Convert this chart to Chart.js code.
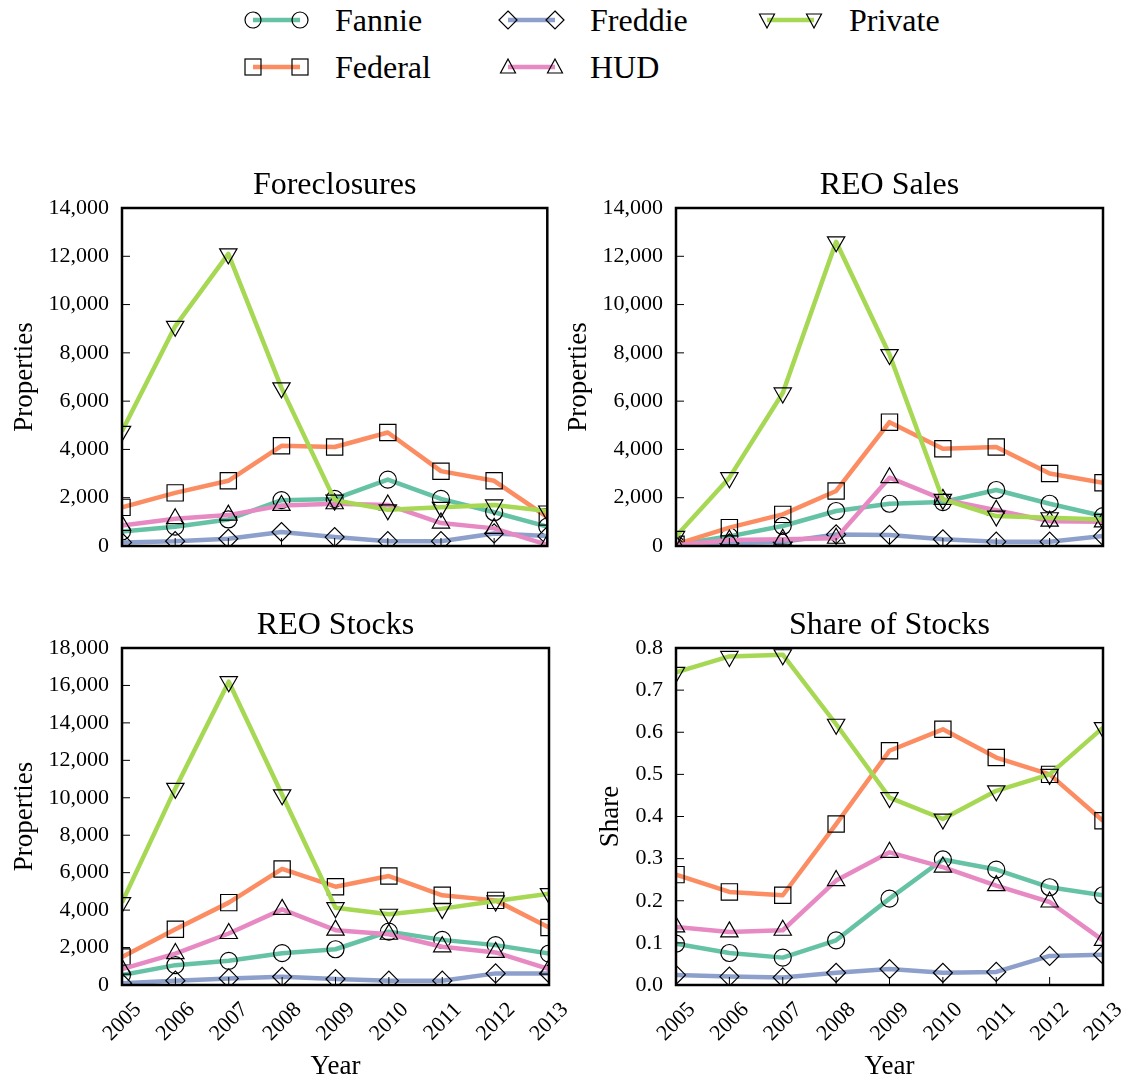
<!DOCTYPE html>
<html>
<head>
<meta charset="utf-8">
<title>Foreclosures and REO</title>
<script src="https://cdn.jsdelivr.net/npm/chart.js@4.4.0/dist/chart.umd.min.js"></script>
<style>
  html, body { margin: 0; padding: 0; background: #fff; }
  body { width: 1125px; height: 1082px; position: relative; overflow: hidden; font-family: 'Liberation Serif', serif; }
  .panel { position: absolute; }
  .legend-item { position: absolute; }
  .legend-item svg { position: absolute; overflow: visible; }
  .legend-item span { position: absolute; font-size: 32px; line-height: 1; white-space: nowrap; color: #000; }
</style>
</head>
<body>
<div id="legend"></div>
<canvas id="foreclosures" class="panel"></canvas>
<canvas id="sales" class="panel"></canvas>
<canvas id="stocks" class="panel"></canvas>
<canvas id="share" class="panel"></canvas>

<script>
// categories
const years = ['2005', '2006', '2007', '2008', '2009', '2010', '2011', '2012', '2013'];
const seriesNames = ['Fannie', 'Federal', 'Freddie', 'HUD', 'Private'];

// Foreclosures (properties)
const fcFannie  = [600, 800, 1100, 1900, 1950, 2750, 1950, 1400, 800];
const fcFederal = [1600, 2200, 2700, 4150, 4100, 4700, 3100, 2700, 1200];
const fcFreddie = [150, 200, 300, 580, 370, 200, 200, 520, 410];
const fcHud     = [850, 1130, 1280, 1680, 1750, 1700, 950, 730, 50];
const fcPrivate = [4750, 9100, 12100, 6550, 1900, 1500, 1600, 1700, 1450];

// REO sales (properties)
const slFannie  = [50, 400, 830, 1450, 1750, 1820, 2320, 1750, 1240];
const slFederal = [70, 760, 1310, 2280, 5130, 4030, 4100, 3000, 2620];
const slFreddie = [30, 110, 170, 480, 460, 280, 180, 180, 410];
const slHud     = [30, 250, 280, 320, 2830, 1930, 1480, 1030, 1000];
const slPrivate = [400, 2830, 6340, 12600, 7930, 1930, 1240, 1170, 1100];

// REO stocks (properties)
const stFannie  = [530, 1060, 1290, 1700, 1910, 2850, 2410, 2130, 1680];
const stFederal = [1500, 2980, 4400, 6200, 5250, 5820, 4790, 4520, 3070];
const stFreddie = [100, 230, 350, 440, 320, 230, 230, 620, 620];
const stHud     = [850, 1680, 2750, 4040, 2930, 2710, 2040, 1740, 850];
const stPrivate = [4400, 10500, 16200, 10160, 4130, 3780, 4080, 4490, 4880];

// share of stocks
const shFannie  = [0.098, 0.076, 0.065, 0.106, 0.205, 0.298, 0.274, 0.232, 0.213];
const shFederal = [0.262, 0.221, 0.213, 0.382, 0.556, 0.607, 0.540, 0.500, 0.390];
const shFreddie = [0.024, 0.020, 0.018, 0.029, 0.038, 0.029, 0.031, 0.069, 0.072];
const shHud     = [0.138, 0.126, 0.130, 0.248, 0.315, 0.280, 0.236, 0.197, 0.106];
const shPrivate = [0.742, 0.780, 0.784, 0.619, 0.445, 0.394, 0.461, 0.500, 0.611];

// y tick values
const ticks14k = [0, 2000, 4000, 6000, 8000, 10000, 12000, 14000];
const ticks18k = [0, 2000, 4000, 6000, 8000, 10000, 12000, 14000, 16000, 18000];
const shareTicks = [0, 0.1, 0.2, 0.3, 0.4, 0.5, 0.6, 0.7, 0.8];

// styling per series
const colors = ['#66c2a5', '#fc8d62', '#8da0cb', '#e78ac3', '#a6d854'];
const markers = [
    { style: 'circle', radius: 8.5, rotation: 0 },
    { style: 'rect', radius: 11.5, rotation: 0 },
    { style: 'rectRot', radius: 9.5, rotation: 0 },
    { style: 'triangle', radius: 10, rotation: 0 },
    { style: 'triangle', radius: 10, rotation: 180 }
];

Chart.defaults.font.family = "'Liberation Serif', serif";
Chart.defaults.color = '#000';

// black box round the plot area, with inward ticks on the bottom and left
const framePlugin = {
    id: 'frame',
    afterDatasetsDraw(chart) {
        const { ctx, chartArea: a, scales } = chart;
        ctx.save();
        ctx.strokeStyle = '#000';
        ctx.lineWidth = 1;
        ctx.beginPath();
        scales.x.ticks.forEach((t, i) => {
            const px = scales.x.getPixelForTick(i);
            ctx.moveTo(px, a.bottom);
            ctx.lineTo(px, a.bottom - 8);
        });
        scales.y.ticks.forEach((t, i) => {
            const py = scales.y.getPixelForTick(i);
            ctx.moveTo(a.left, py);
            ctx.lineTo(a.left + 8, py);
        });
        ctx.stroke();
        ctx.lineWidth = 2.5;
        ctx.strokeRect(a.left, a.top, a.right - a.left, a.bottom - a.top);
        ctx.restore();
    }
};

function makeDatasets(seriesData) {
    return seriesData.map((values, i) => ({
        label: seriesNames[i],
        data: values,
        borderColor: colors[i],
        backgroundColor: colors[i],
        borderWidth: 4.5,
        borderJoinStyle: 'round',
        tension: 0,
        pointStyle: markers[i].style,
        pointRadius: markers[i].radius,
        pointHoverRadius: markers[i].radius,
        pointRotation: markers[i].rotation,
        pointBackgroundColor: 'rgba(0,0,0,0)',
        pointBorderColor: '#000',
        pointBorderWidth: 1.2,
        clip: 0,
        order: seriesData.length - i
    }));
}

function drawPanel(id, box, title, seriesData, yTicks, yTitle, opts) {
    const canvas = document.getElementById(id);
    canvas.style.left = box.left + 'px';
    canvas.style.top = box.top + 'px';
    canvas.style.width = box.width + 'px';
    canvas.style.height = box.height + 'px';
    canvas.width = box.width;
    canvas.height = box.height;

    const fmt = opts.share ? (v => v.toFixed(1)) : (v => v.toLocaleString('en-US'));

    new Chart(canvas, {
        type: 'line',
        data: { labels: years, datasets: makeDatasets(seriesData) },
        options: {
            responsive: false,
            animation: false,
            events: [],
            layout: { padding: { left: 0, right: box.padRight, top: 0, bottom: 0 } },
            plugins: {
                legend: { display: false },
                tooltip: { enabled: false },
                title: {
                    display: true,
                    text: title,
                    fullSize: false,
                    font: { size: 32, weight: 'normal', lineHeight: 1 },
                    padding: { top: 20, bottom: 6 }
                }
            },
            scales: {
                x: {
                    offset: false,
                    grid: { display: false, drawTicks: false },
                    border: { display: false },
                    ticks: {
                        display: opts.showYears,
                        autoSkip: false,
                        maxRotation: 45,
                        minRotation: 45,
                        padding: 12,
                        labelOffset: 16,
                        font: { size: 22 }
                    },
                    title: {
                        display: opts.showYears,
                        text: 'Year',
                        font: { size: 27, lineHeight: 1.1 },
                        padding: { top: 0, bottom: 0 }
                    },
                    afterFit: s => {
                        s.height = box.xHeight;
                        s.paddingLeft = 0;
                        s.paddingRight = 0;
                    }
                },
                y: {
                    min: yTicks[0],
                    max: yTicks[yTicks.length - 1],
                    grid: { display: false, drawTicks: false },
                    border: { display: false },
                    afterBuildTicks: s => { s.ticks = yTicks.map(v => ({ value: v })); },
                    ticks: {
                        padding: 13,
                        font: { size: 22 },
                        callback: v => fmt(v)
                    },
                    title: {
                        display: true,
                        text: yTitle,
                        font: { size: 27 },
                        padding: { top: opts.yTitlePad, bottom: 0 }
                    },
                    afterFit: s => {
                        s.width = 122;
                        s.paddingTop = 0;
                        s.paddingBottom = 0;
                    }
                }
            }
        },
        plugins: [framePlugin]
    });
}

drawPanel('foreclosures', { left: 0, top: 150, width: 560, height: 410, padRight: 11, xHeight: 14 },
    'Foreclosures', [fcFannie, fcFederal, fcFreddie, fcHud, fcPrivate], ticks14k, 'Properties',
    { showYears: false, yTitlePad: 9 });

drawPanel('sales', { left: 554, top: 150, width: 571, height: 410, padRight: 22, xHeight: 14 },
    'REO Sales', [slFannie, slFederal, slFreddie, slHud, slPrivate], ticks14k, 'Properties',
    { showYears: false, yTitlePad: 9 });

drawPanel('stocks', { left: 0, top: 590, width: 600, height: 492, padRight: 51, xHeight: 97 },
    'REO Stocks', [stFannie, stFederal, stFreddie, stHud, stPrivate], ticks18k, 'Properties',
    { showYears: true, yTitlePad: 9 });

drawPanel('share', { left: 554, top: 590, width: 571, height: 492, padRight: 22, xHeight: 97 },
    'Share of Stocks', [shFannie, shFederal, shFreddie, shHud, shPrivate], shareTicks, 'Share',
    { showYears: true, yTitlePad: 41, share: true });

// legend, laid out in columns like the original
const legendSlots = [
    { x: 253, y: 20 }, { x: 253, y: 67 },
    { x: 508, y: 20 }, { x: 508, y: 67 },
    { x: 767, y: 20 }
];

function markerSvg(i, cx, cy) {
    const s = 'fill="none" stroke="#000" stroke-width="1.2"';
    if (i === 0) return `<circle cx="${cx}" cy="${cy}" r="8" ${s}/>`;
    if (i === 1) return `<rect x="${cx - 8}" y="${cy - 8}" width="16" height="16" ${s}/>`;
    if (i === 2) return `<polygon points="${cx},${cy - 9} ${cx + 9},${cy} ${cx},${cy + 9} ${cx - 9},${cy}" ${s}/>`;
    if (i === 3) return `<polygon points="${cx},${cy - 8} ${cx + 7.5},${cy + 6} ${cx - 7.5},${cy + 6}" ${s}/>`;
    return `<polygon points="${cx},${cy + 8} ${cx + 7.5},${cy - 6} ${cx - 7.5},${cy - 6}" ${s}/>`;
}

const legendEl = document.getElementById('legend');
seriesNames.forEach((name, i) => {
    const slot = legendSlots[i];
    const item = document.createElement('div');
    item.className = 'legend-item';
    item.style.left = '0px';
    item.style.top = '0px';
    const x1 = slot.x, x2 = slot.x + 47, y = slot.y;
    item.innerHTML = `
        <svg width="1125" height="100" style="left:0;top:0">
            <line x1="${x1}" y1="${y}" x2="${x2}" y2="${y}" stroke="${colors[i]}" stroke-width="4.5"/>
            ${markerSvg(i, x1, y)}
            ${markerSvg(i, x2, y)}
        </svg>
        <span style="left:${slot.x + 82}px; top:${y - 16}px">${name}</span>
    `;
    legendEl.appendChild(item);
});
</script>
</body>
</html>
